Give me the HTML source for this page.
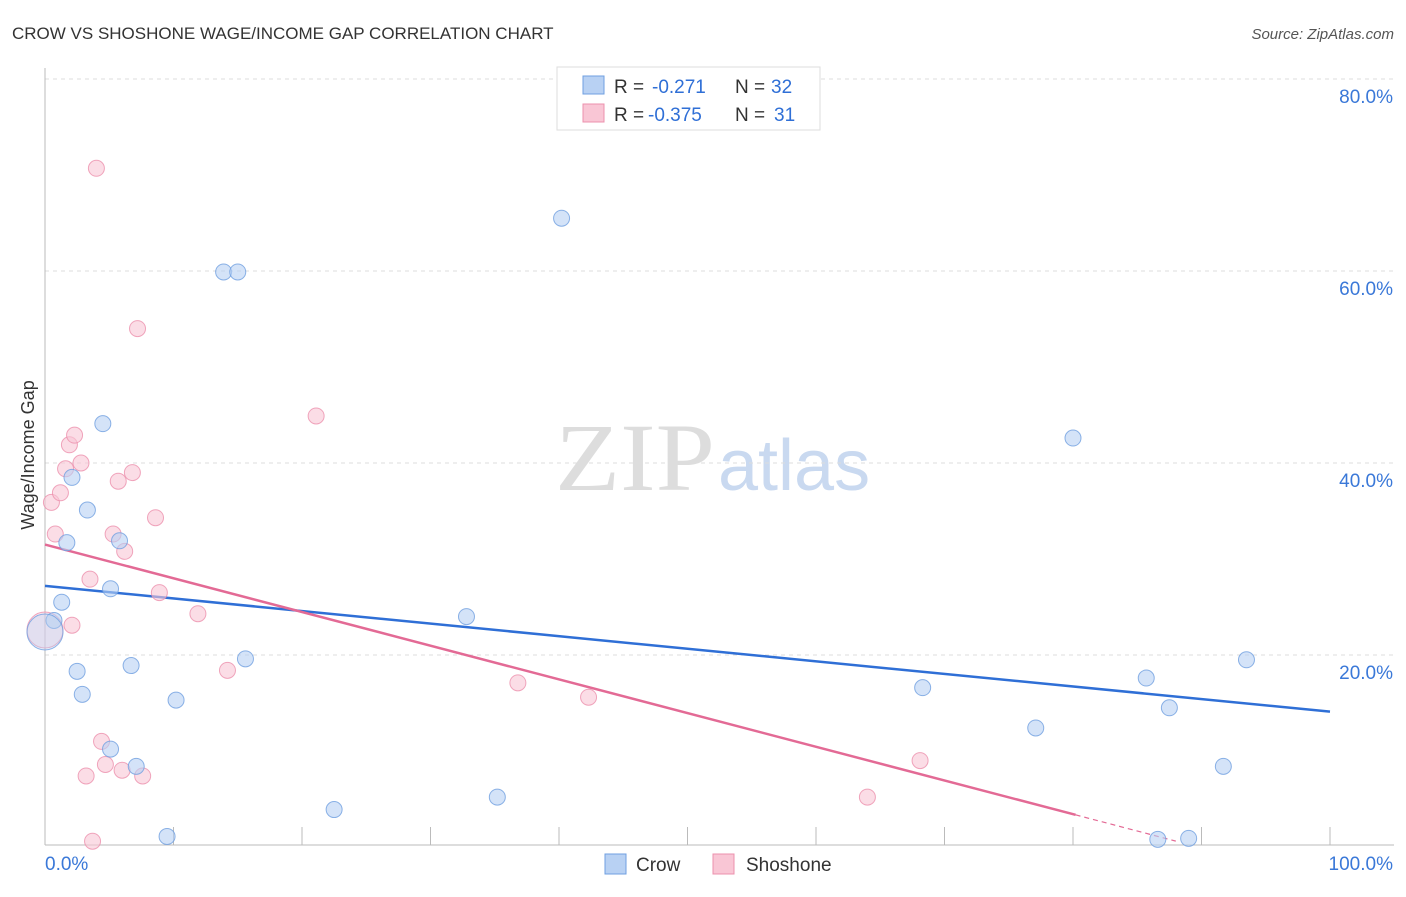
<!DOCTYPE html>
<html><head><meta charset="utf-8"><style>
body{margin:0;background:#fff;font-family:"Liberation Sans",sans-serif;}
</style></head><body>
<svg width="1406" height="892" xmlns="http://www.w3.org/2000/svg" id="chart">
<text x="12" y="39" font-size="17" fill="#333">CROW VS SHOSHONE WAGE/INCOME GAP CORRELATION CHART</text>
<text x="1394" y="39" font-size="15" fill="#555" font-style="italic" text-anchor="end">Source: ZipAtlas.com</text>
<text x="555" y="490" font-size="96" fill="#ddd" textLength="160" lengthAdjust="spacingAndGlyphs" font-family="Liberation Serif,serif">ZIP</text>
<text x="718" y="490" font-size="72" fill="#c9d9f0">atlas</text>
<text transform="translate(34,455) rotate(-90)" font-size="18" fill="#333" text-anchor="middle">Wage/Income Gap</text>
<g id="grid"></g><g id="axes"></g><g id="trends"></g><g id="points"></g>
<g>
<rect x="557" y="67" width="263" height="63" fill="#fff" stroke="#ddd"/>
<rect x="583" y="76" width="21" height="18" fill="#b8d1f3" stroke="#6f9fe0"/>
<rect x="583" y="104" width="21" height="18" fill="#f9c6d5" stroke="#ec90ad"/>
<text x="614" y="93" font-size="19" fill="#333">R =</text>
<text x="652" y="93" font-size="19" fill="#2f6fd6">-0.271</text>
<text x="735" y="93" font-size="19" fill="#333">N =</text>
<text x="771" y="93" font-size="19" fill="#2f6fd6">32</text>
<text x="614" y="121" font-size="19" fill="#333">R =</text>
<text x="648" y="121" font-size="19" fill="#2f6fd6">-0.375</text>
<text x="735" y="121" font-size="19" fill="#333">N =</text>
<text x="774" y="121" font-size="19" fill="#2f6fd6">31</text>
</g>
<g>
<rect x="605" y="854" width="21" height="20" fill="#b8d1f3" stroke="#6f9fe0"/>
<text x="636" y="871" font-size="19" fill="#333">Crow</text>
<rect x="713" y="854" width="21" height="20" fill="#f9c6d5" stroke="#ec90ad"/>
<text x="746" y="871" font-size="19" fill="#333">Shoshone</text>
</g>
</svg>
<script>
const crowX=[0.7,1.3,1.7,2.1,3.3,2.5,2.9,4.5,5.1,5.1,6.7,7.1,9.5,10.2,13.9,15.0,15.6,22.5,32.8,35.2,40.2,68.3,77.1,80.0,85.7,87.5,86.6,89.0,91.7,93.5,0.0,5.8];
const crowY=[23.6,25.5,31.7,38.5,35.1,18.3,15.9,44.1,26.9,10.2,18.9,8.4,1.1,15.3,59.9,59.9,19.6,3.9,24.0,5.2,65.5,16.6,12.4,42.6,17.6,14.5,0.8,0.9,8.4,19.5,22.4,31.9];
const shoX=[4.0,7.2,21.1,0.5,0.8,1.2,1.6,1.9,2.3,2.8,3.5,2.1,5.7,6.8,5.3,6.2,8.6,8.9,11.9,14.2,4.4,4.7,3.2,6.0,7.6,3.7,36.8,42.3,64.0,68.1,0.0];
const shoY=[70.7,54.0,44.9,35.9,32.6,36.9,39.4,41.9,42.9,40.0,27.9,23.1,38.1,39.0,32.6,30.8,34.3,26.5,24.3,18.4,11.0,8.6,7.4,8.0,7.4,0.6,17.1,15.6,5.2,9.0,22.6];
const crowTrend=[27.2,14.1];
const shoTrend=[31.5,-0.351];
const ns="http://www.w3.org/2000/svg",svg=document.getElementById('chart');
const X=v=>45+v*12.85, Y=v=>847-v*9.6;
function mk(t,a,p){const e=document.createElementNS(ns,t);for(const k in a)e.setAttribute(k,a[k]);document.getElementById(p).appendChild(e);return e;}
const yTicks=[20,40,60,80];
yTicks.forEach(t=>{
 const l=mk('line',{x1:45,x2:1394,y1:Y(t),y2:Y(t),stroke:'#ddd','stroke-dasharray':'4,4'},'grid');
 
 
 const tx=mk('text',{x:1393,y:Y(t)+24,'font-size':19,fill:'#3a78d8','text-anchor':'end'},'grid');tx.textContent=t+'.0%';
 
 
});
mk('line',{x1:45,x2:45,y1:68,y2:845,stroke:'#bbb'},'axes');
mk('line',{x1:45,x2:1394,y1:845,y2:845,stroke:'#bbb'},'axes');
for(let i=1;i<=10;i++){mk('line',{x1:X(i*10),x2:X(i*10),y1:827,y2:845,stroke:'#bbb'},'axes');}
let t0=mk('text',{x:45,y:870,'font-size':19,fill:'#3a78d8'},'axes');t0.textContent='0.0%';


let t1=mk('text',{x:1393,y:870,'font-size':19,fill:'#3a78d8','text-anchor':'end'},'axes');t1.textContent='100.0%';


let bl=mk('line',{x1:X(0),y1:Y(crowTrend[0]),x2:X(100),y2:Y(crowTrend[1]),stroke:'#2f6fd6','stroke-width':2.5},'trends');


const sf=x=>shoTrend[0]+shoTrend[1]*x;
let pl=mk('line',{x1:X(0),y1:Y(sf(0)),x2:X(80.2),y2:Y(sf(80.2)),stroke:'#e36a95','stroke-width':2.5},'trends');


let pd=mk('line',{x1:X(80.2),y1:Y(sf(80.2)),x2:X(88),y2:Y(sf(88)),stroke:'#e36a95','stroke-width':1.2,'stroke-dasharray':'5,4'},'trends');


function pts(xs,ys,fill,stroke,name){xs.forEach((x,i)=>{const big=(x===0);
 const c=mk('circle',{cx:X(x),cy:Y(ys[i]),r:big?18:8,fill:fill,'fill-opacity':big?0.4:0.6,stroke:stroke,'stroke-width':1,'stroke-opacity':0.8},'points');
 
 });}
pts(shoX,shoY,'#f9c6d5','#ec90ad','shoshone');
pts(crowX,crowY,'#b8d1f3','#6f9fe0','crow');
</script>
</body></html>
